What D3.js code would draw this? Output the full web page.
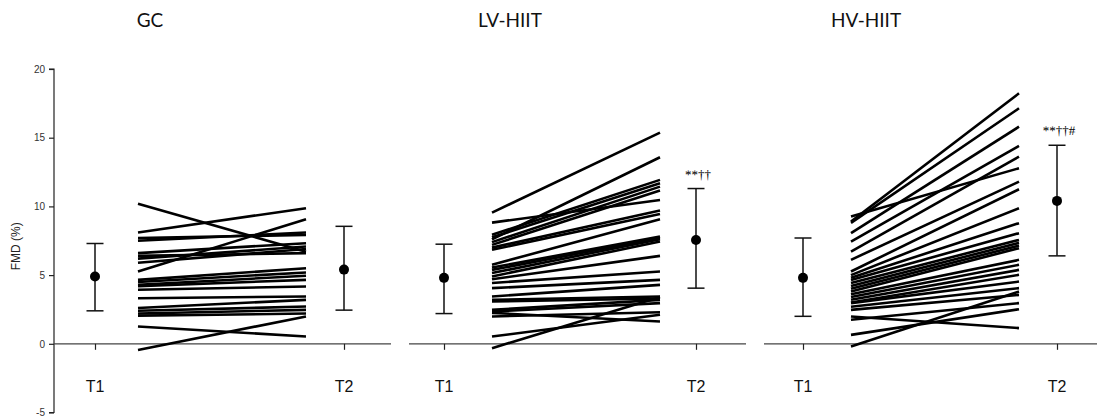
<!DOCTYPE html>
<html>
<head>
<meta charset="utf-8">
<script src="https://cdn.jsdelivr.net/npm/d3@7/dist/d3.min.js"></script>
<style>
  html, body { margin: 0; padding: 0; background: #fff; }
  svg { display: block; }
</style>
</head>
<body>
<svg id="chart" width="1097" height="418"></svg>
<script>
// Groups and time points
const groups = ["GC", "LV-HIIT", "HV-HIIT"];
const timeLabels = ["T1", "T2"];
const yTicks = [-5, 0, 5, 10, 15, 20];

// Individual FMD (%) values, T1 and T2, one entry per participant
const gcT1 = [10.2, 8.1, 7.69, 7.5, 5.26, 6.6, 6.4, 6.2, 5.9, 4.65, 4.5, 4.3, 4.2, 3.93, 3.32, 2.6, 2.4, 2.2, 2.05, 1.26, -0.45];
const gcT2 = [6.7, 9.87, 7.93, 8.1, 9.07, 7.32, 6.6, 7.08, 6.9, 5.5, 5.19, 4.95, 4.65, 4.17, 3.44, 3.2, 2.71, 2.47, 2.2, 0.53, 1.99];

const lvT1 = [9.55, 8.82, 7.6, 7.93, 7.75, 7.4, 7.2, 7.0, 6.84, 5.75, 5.55, 5.38, 5.15, 4.9, 4.7, 4.43, 4.05, 3.44, 3.2, 3.08, 2.47, 2.35, 2.25, 1.99, 0.53, -0.32];
const lvT2 = [15.37, 10.47, 13.58, 11.93, 11.68, 11.44, 11.15, 9.7, 9.45, 9.07, 7.8, 7.7, 7.61, 7.44, 6.4, 5.26, 4.65, 4.29, 3.44, 3.3, 3.2, 2.96, 1.62, 2.3, 2.11, 3.4];

const hvT1 = [9.26, 8.9, 8.8, 8.05, 7.44, 6.71, 6.11, 5.26, 5.0, 4.8, 4.65, 4.43, 4.2, 4.0, 3.8, 3.6, 3.4, 3.2, 3.0, 2.96, 2.7, 2.47, 1.99, 1.75, 0.65, -0.2];
const hvT2 = [12.78, 18.23, 17.14, 15.8, 14.4, 13.62, 11.8, 11.25, 9.87, 8.78, 8.05, 7.56, 7.35, 7.15, 6.96, 6.11, 5.75, 5.38, 5.02, 4.53, 4.05, 3.56, 1.14, 2.96, 2.52, 3.8];

// Group summaries: mean and error bar limits at T1 and T2
const meanT1 = [4.9, 4.8, 4.8];
const lowT1 = [2.4, 2.2, 2.0];
const highT1 = [7.3, 7.25, 7.7];
const meanT2 = [5.4, 7.55, 10.4];
const lowT2 = [2.45, 4.05, 6.4];
const highT2 = [8.55, 11.3, 14.45];

// Significance marks above the T2 error bar
const sigLabels = ["", "**††", "**††#"];

const individualT1 = [gcT1, lvT1, hvT1];
const individualT2 = [gcT2, lvT2, hvT2];

// ---- layout ----
const svg = d3.select("#chart");
const y = d3.scaleLinear().domain([-5, 20]).range([412.5, 69]);
const axisX = 54;

// Horizontal extent of each panel and where its T1/T2 columns sit
const panels = [
  { left: 54,  right: 391,  t1: 95,  t2: 344,  lineFrom: 138, lineTo: 306,  title: 150 },
  { left: 409, right: 746,  t1: 444, t2: 696,  lineFrom: 492, lineTo: 660,  title: 510 },
  { left: 764, right: 1097, t1: 803, t2: 1057, lineFrom: 851, lineTo: 1019, title: 866 }
];

// y axis
const yAxis = svg.append("g")
  .attr("transform", `translate(${axisX},0)`)
  .call(d3.axisLeft(y).tickValues(yTicks).tickSize(5).tickPadding(4)
    .tickFormat(d => String(d)));
yAxis.select(".domain").attr("stroke", "#222").attr("stroke-width", 1.2)
  .attr("d", `M-5,${y(20)}H0V${y(-5)}H-5`);
yAxis.selectAll(".tick line").attr("stroke", "#222").attr("stroke-width", 1.2);
yAxis.selectAll(".tick text")
  .attr("font-family", "Liberation Sans, Arial, sans-serif")
  .attr("font-size", 10).attr("fill", "#333");

svg.append("text")
  .attr("transform", `translate(20,${y(7.1)}) rotate(-90)`)
  .attr("text-anchor", "middle")
  .attr("font-family", "Liberation Sans, Arial, sans-serif")
  .attr("font-size", 12).attr("fill", "#222")
  .text("FMD (%)");

groups.forEach((name, i) => {
  const p = panels[i];
  const g = svg.append("g");

  // zero line with T1/T2 ticks
  const x = d3.scalePoint().domain(timeLabels).range([p.t1, p.t2]);
  const xAxis = g.append("g")
    .attr("transform", `translate(0,${y(0)})`)
    .call(d3.axisBottom(x).tickSize(6).tickFormat(""));
  xAxis.select(".domain").attr("stroke", "#444").attr("stroke-width", 1.2)
    .attr("d", `M${p.left},0H${p.right}`);
  xAxis.selectAll(".tick line").attr("stroke", "#222").attr("stroke-width", 1.2);

  // T1 / T2 labels
  g.selectAll(".tlabel").data(timeLabels).join("text")
    .attr("x", d => x(d)).attr("y", 392)
    .attr("text-anchor", "middle")
    .attr("font-family", "Liberation Sans, Arial, sans-serif")
    .attr("font-size", 16).attr("fill", "#111")
    .text(d => d);

  // group title
  g.append("text")
    .attr("x", p.title).attr("y", 27)
    .attr("text-anchor", "middle")
    .attr("font-family", "Lato, 'Open Sans', sans-serif")
    .attr("font-size", 19).attr("fill", "#111")
    .text(name);

  // individual participant lines
  const pairs = individualT1[i].map((v, k) => [v, individualT2[i][k]]);
  g.selectAll(".subject").data(pairs).join("line")
    .attr("x1", p.lineFrom).attr("x2", p.lineTo)
    .attr("y1", d => y(d[0])).attr("y2", d => y(d[1]))
    .attr("stroke", "#000").attr("stroke-width", 2.6)
    .attr("stroke-linecap", "butt");

  // mean ± error bars
  const summary = [
    { t: "T1", mean: meanT1[i], lo: lowT1[i], hi: highT1[i] },
    { t: "T2", mean: meanT2[i], lo: lowT2[i], hi: highT2[i] }
  ];
  const cap = 8.5;
  summary.forEach(s => {
    const cx = x(s.t);
    g.append("line").attr("x1", cx).attr("x2", cx)
      .attr("y1", y(s.hi)).attr("y2", y(s.lo))
      .attr("stroke", "#111").attr("stroke-width", 1.5);
    [s.hi, s.lo].forEach(v => {
      g.append("line").attr("x1", cx - cap).attr("x2", cx + cap)
        .attr("y1", y(v)).attr("y2", y(v))
        .attr("stroke", "#111").attr("stroke-width", 1.5);
    });
    g.append("circle").attr("cx", cx).attr("cy", y(s.mean)).attr("r", 5)
      .attr("fill", "#000");
  });

  if (sigLabels[i]) {
    g.append("text")
      .attr("x", x("T2") + 2).attr("y", y(highT2[i]) - 10)
      .attr("text-anchor", "middle")
      .attr("font-family", "'Liberation Serif', 'DejaVu Serif', serif")
      .attr("font-size", 13).attr("fill", "#000")
      .attr("opacity", 0.999)
      .attr("transform", `rotate(0.01,${x("T2")},${y(highT2[i])})`)
      .style("text-rendering", "geometricPrecision")
      .text(sigLabels[i]);
  }
});
</script>
</body>
</html>
